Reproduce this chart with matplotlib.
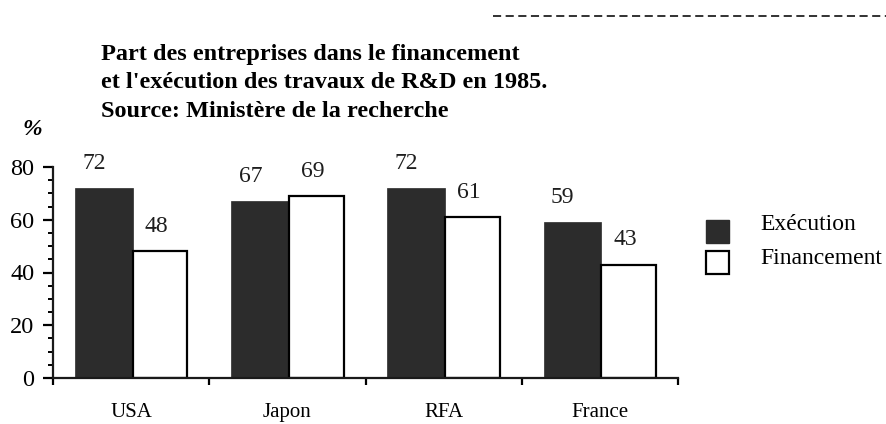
import matplotlib
matplotlib.use('Agg')
import matplotlib.pyplot as plt
from matplotlib.patches import Rectangle
from matplotlib.lines import Line2D
import numpy as np

# data
pays = ['USA', 'Japon', 'RFA', 'France']
execution = [72, 67, 72, 59]
financement = [48, 69, 61, 43]
title_lines = ["Part des entreprises dans le financement",
               "et l'exécution des travaux de R&D en 1985.",
               "Source: Ministère de la recherche"]

SERIF = ['Liberation Serif', 'DejaVu Serif']
DARK = '#2c2c2c'

plt.rcParams['font.family'] = SERIF

fig = plt.figure(figsize=(8.86, 4.24), dpi=100)
ax = fig.add_axes([53/886, 1 - 378/424, (678 - 53)/886, (378 - 167)/424])

x = np.arange(len(pays))
w_exec = 0.37
w_fin = 0.35
x_exec = x + 0.14
x_fin = x_exec + w_exec

ax.bar(x_exec, execution, width=w_exec, align='edge', color=DARK,
       edgecolor=DARK, linewidth=0.5, zorder=2)
ax.bar(x_fin, financement, width=w_fin, align='edge', color='white',
       edgecolor='black', linewidth=1.6, zorder=2)

# value labels above the bars (the scan puts them a bit left of centre)
for xs, w, vals, dx in [(x_exec, w_exec, execution, -7),
                        (x_fin, w_fin, financement, -2.5)]:
    for xi, v in zip(xs, vals):
        ax.annotate(str(v), (xi + w / 2, v), xytext=(dx, 18),
                    textcoords='offset points', ha='center', va='center',
                    fontsize=17, color='#1e1e1e')

ax.set_xlim(0, len(pays))
ax.set_ylim(0, 80)

for s in ['top', 'right']:
    ax.spines[s].set_visible(False)
for s in ['left', 'bottom']:
    ax.spines[s].set_linewidth(1.6)
    ax.spines[s].set_color('#1a1a1a')

ax.set_yticks([0, 20, 40, 60, 80])
ax.set_yticks(np.arange(0, 81, 5), minor=True)
ax.tick_params(axis='y', which='major', length=7.5, width=1.6, pad=6,
               labelsize=17.5, direction='out')
ax.tick_params(axis='y', which='minor', length=3.5, width=1.4, direction='out')

ax.set_xticks(np.arange(len(pays) + 1))
ax.set_xticklabels([])
ax.set_xticks(x + 0.5, minor=True)
ax.set_xticklabels(pays, minor=True)
ax.tick_params(axis='x', which='major', length=5, width=1.6, direction='out')
ax.tick_params(axis='x', which='minor', length=0, pad=18, labelsize=15)

# title block
for i, line in enumerate(title_lines):
    fig.text(101/886, 1 - (60 + i * 28.5)/424, line, fontsize=17.5,
             fontweight='bold', ha='left', va='baseline', family=SERIF)

fig.text(22/886, 1 - 129/424, '%', fontsize=17, fontstyle='italic',
         fontweight='bold', ha='left', va='center', family=SERIF)

# dashed rule at the top right
fig.add_artist(Line2D([493/886, 1.0], [1 - 16/424, 1 - 16/424],
                      transform=fig.transFigure, color='#222222',
                      linewidth=1.3, linestyle=(0, (4.5, 2.5))))

# legend drawn by hand, as in the original layout
fig.add_artist(Rectangle((706/886, 1 - 243/424), 23/886, 23/424,
                         transform=fig.transFigure, facecolor=DARK,
                         edgecolor=DARK, linewidth=1))
fig.add_artist(Rectangle((706/886, 1 - 274/424), 23/886, 23/424,
                         transform=fig.transFigure, facecolor='white',
                         edgecolor='black', linewidth=1.6))
fig.text(760/886, 1 - 225/424, 'Exécution', fontsize=17, ha='left',
         va='center', family=SERIF)
fig.text(760/886, 1 - 258/424, 'Financement', fontsize=17, ha='left',
         va='center', family=SERIF)

fig.savefig('out.png', dpi=100, facecolor='white')
